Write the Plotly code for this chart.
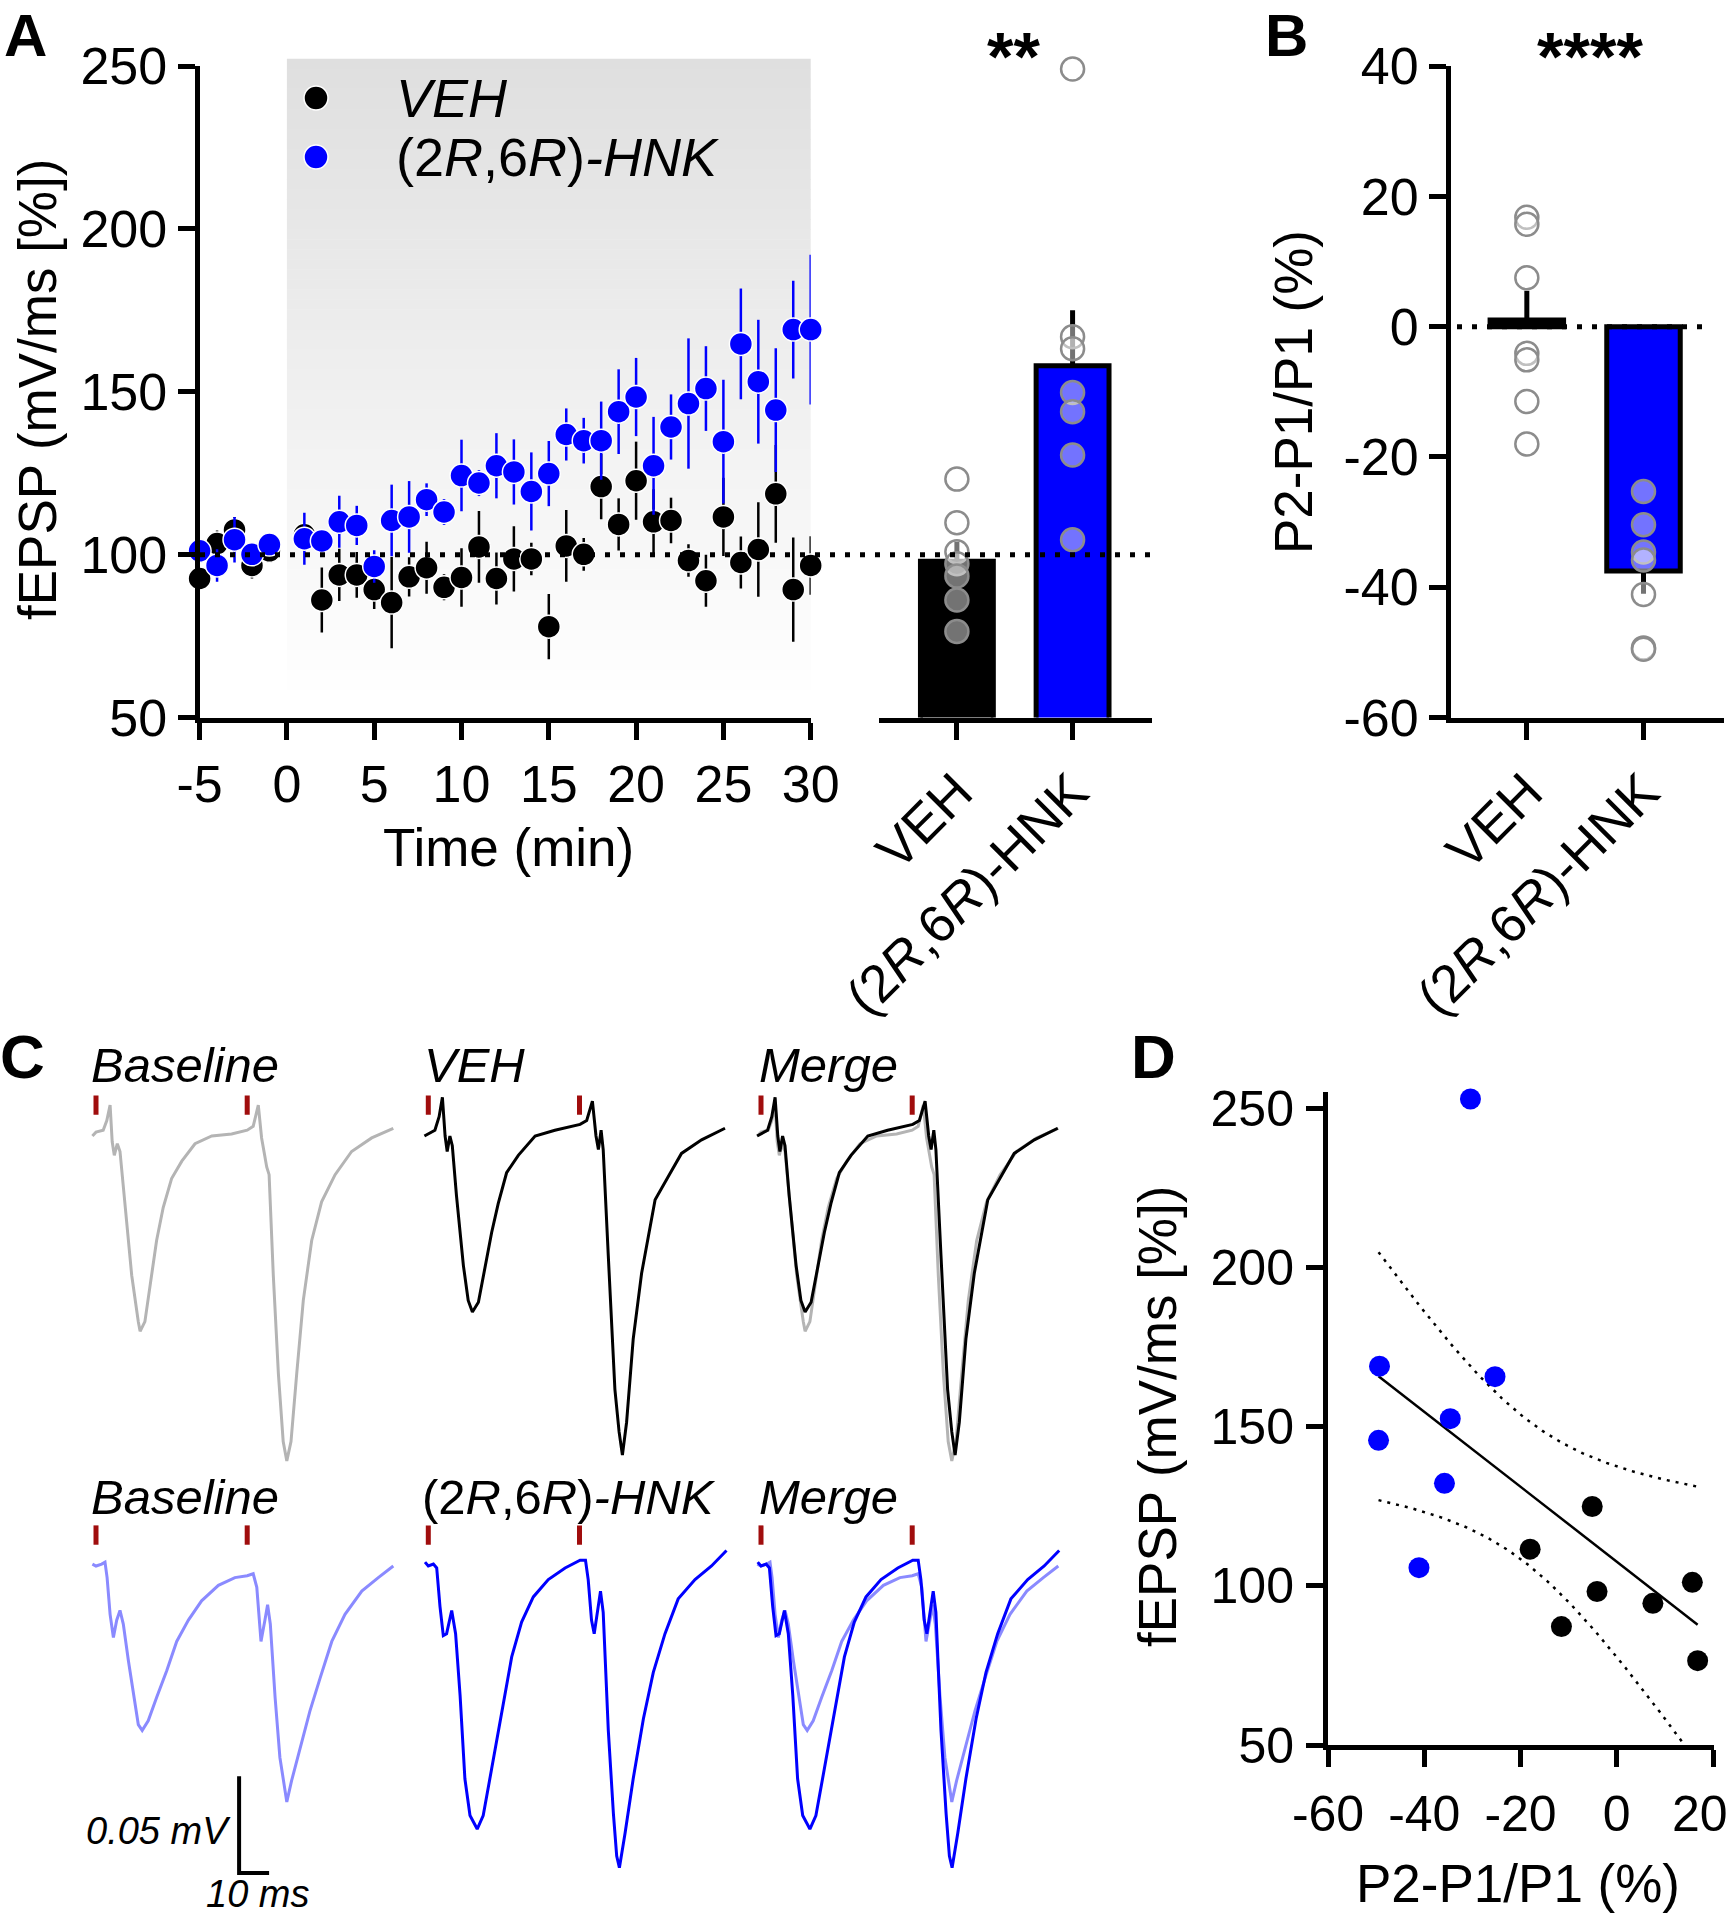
import numpy as np
import plotly.graph_objects as go

W, H = 1734, 1920
FONT = "Liberation Sans, Arial, sans-serif"
BLUE = "#0000ff"
LIGHT_BLUE = "#8a8aff"
GRAY = "#b4b4b4"

# ---------------- Panel A : time course (mean +/- SEM, % of baseline) ----------------
time_min = [-5, -4, -3, -2, -1, 1, 2, 3, 4, 5, 6, 7, 8, 9, 10, 11, 12, 13, 14, 15,
            16, 17, 18, 19, 20, 21, 22, 23, 24, 25, 26, 27, 28, 29, 30]
veh_time_mean = [92.7, 103.4, 107.6, 96.7, 101.2, 106.1, 86.1, 93.8, 93.8, 89.3, 85.3, 93.2,
                 96.0, 90.0, 93.0, 102.4, 92.7, 98.7, 98.7, 77.9, 102.7, 100.1, 120.9, 109.3,
                 122.7, 110.1, 110.5, 98.2, 92.0, 111.6, 97.6, 101.6, 118.7, 89.3, 96.7]
veh_time_sem = [3, 4, 4, 4, 3, 3, 10, 8, 7, 6, 14, 6, 8, 4, 9, 11, 8, 10, 5, 10,
                11, 5, 10, 8, 12, 10, 7, 5, 8, 12, 8, 14.5, 15, 16, 9]
hnk_time_mean = [101.2, 96.7, 104.6, 100.1, 103.1, 104.9, 104.2, 110.1, 109.0, 96.4, 110.5,
                 111.6, 116.9, 113.1, 124.3, 122.0, 127.3, 125.4, 119.4, 124.9, 136.9, 135.0,
                 135.0, 143.9, 148.4, 127.3, 139.2, 146.4, 151.0, 134.7, 164.7, 153.1, 144.4,
                 169.1, 169.1]
hnk_time_sem = [3, 5, 7, 3, 3, 8, 3, 8, 6, 5, 11, 11, 5, 4, 11, 4, 10, 10, 12, 10,
                8, 7, 12, 13, 12, 15, 10, 20, 13, 19, 17, 19, 19, 15, 23]
time_ticks = [-5, 0, 5, 10, 15, 20, 25, 30]
ltp_ticks = [50, 100, 150, 200, 250]

# ---------------- Panel A bars : last 10 min fEPSP (%) ----------------
groups = ["VEH", "(2<i>R</i>,6<i>R</i>)-HNK"]
ltp_bar_mean = [98, 158]
ltp_bar_sem = [6, 17]
ltp_veh_cells = [123.2, 109.8, 100.9, 97.2, 93.5, 86.1, 76.4]
ltp_hnk_cells = [249.1, 166.9, 163.2, 149.8, 143.9, 130.6, 104.6]

# ---------------- Panel B : paired-pulse ratio (%) ----------------
ppr_bar_mean = [1.0, -37.5]
ppr_bar_sem = [4.5, 3.5]
ppr_veh_cells = [16.8, 15.7, 7.5, -4.1, -5.1, -11.5, -18.0]
ppr_hnk_cells = [-30.4, -49.3, -25.3, -34.6, -49.5, -35.8, -41.1]
ppr_ticks = [-60, -40, -20, 0, 20, 40]

# ---------------- Panel D : correlation (same cells as B, fEPSP read from D) ----------------
ltp_veh_d = [76.5, 101.1, 94.5, 98.2, 124.9, 87.2, 111.5]
ltp_hnk_d = [252.9, 169.0, 165.7, 152.5, 145.7, 132.2, 105.7]
ppr_d_ticks = [-60, -40, -20, 0, 20]
T_CRIT_DF12 = 2.179  # two-sided 95% t value, n - 2 = 12

# ---------------- Panel C : representative traces (time ms, voltage mV) ----------------
stim_times = [0, 50.4]
base_veh_t = [-1.2, 0, 2.4, 3.6, 4.7, 5.4, 6.1, 7.1, 8.0, 9.7, 11.9, 14.1, 14.7, 16.3, 18.6,
              20.2, 22.4, 25.2, 28.6, 33.0, 38.6, 45.2, 50.4, 52.4, 54.1, 55.2, 56.0, 56.9,
              57.7, 59.1, 60.8, 62.4, 63.6, 65.0, 66.9, 69.1, 71.9, 75.2, 79.7, 85.2, 91.9, 99.1]
base_veh_v = [0, 0.002, 0.003, 0.008, 0.016, -0.003, -0.010, -0.004, -0.008, -0.037, -0.072,
              -0.096, -0.101, -0.096, -0.072, -0.054, -0.037, -0.022, -0.013, -0.004, 0, 0.001,
              0.003, 0.005, 0.016, -0.001, -0.008, -0.016, -0.020, -0.072, -0.123, -0.158,
              -0.168, -0.158, -0.123, -0.085, -0.054, -0.034, -0.020, -0.008, -0.001, 0.004]
veh_t = [-1.3, 0, 2.2, 3.6, 4.7, 5.6, 6.3, 7.2, 8.0, 9.4, 11.7, 13.3, 14.7, 16.7, 18.9, 21.1,
         23.3, 26.1, 30.0, 35.6, 42.2, 50.6, 52.8, 54.7, 55.9, 56.7, 57.6, 58.3, 60.0, 62.2,
         63.6, 64.7, 66.1, 68.3, 71.1, 75.6, 80.0, 84.4, 91.1, 98.9]
veh_v = [0, 0.001, 0.003, 0.010, 0.020, 0, -0.008, 0, -0.005, -0.031, -0.067, -0.085, -0.091,
         -0.086, -0.067, -0.050, -0.035, -0.019, -0.010, 0, 0.003, 0.006, 0.008, 0.018, 0,
         -0.007, 0.003, -0.007, -0.062, -0.131, -0.153, -0.165, -0.148, -0.105, -0.071, -0.033,
         -0.021, -0.009, -0.002, 0.004]
base_hnk_t = [-1.2, 0, 1.9, 3.0, 3.7, 4.7, 5.8, 6.9, 8.0, 9.1, 10.8, 12.4, 14.1, 15.4, 17.4,
              20.2, 23.6, 26.9, 30.8, 35.2, 40.8, 46.3, 50.4, 52.4, 53.6, 54.3, 55.0, 56.3,
              57.2, 58.1, 59.7, 61.3, 62.8, 63.6, 65.2, 68.0, 71.3, 74.7, 78.6, 83.0, 88.6,
              94.1, 99.1]
base_hnk_v = [0.001, 0, 0.001, 0.002, -0.006, -0.025, -0.037, -0.028, -0.023, -0.030, -0.049,
              -0.066, -0.082, -0.085, -0.080, -0.068, -0.054, -0.039, -0.028, -0.018, -0.010,
              -0.006, -0.005, -0.004, -0.011, -0.025, -0.039, -0.028, -0.020, -0.030, -0.068,
              -0.099, -0.115, -0.122, -0.111, -0.094, -0.075, -0.058, -0.039, -0.025, -0.013,
              -0.006, 0]
hnk_t = [-1.1, 0, 1.7, 2.8, 3.9, 5.0, 6.1, 7.8, 9.1, 10.6, 12.2, 13.9, 16.3, 18.3, 21.1, 24.4,
         27.8, 31.1, 35.0, 40.0, 45.6, 50.6, 52.4, 53.3, 54.4, 55.3, 56.4, 57.4, 58.3, 60.0,
         61.7, 62.8, 63.7, 65.6, 68.3, 71.7, 75.0, 78.9, 83.3, 88.9, 94.4, 99.4]
hnk_v = [0.002, 0, 0.001, -0.001, -0.021, -0.036, -0.035, -0.023, -0.035, -0.067, -0.110,
         -0.129, -0.136, -0.129, -0.105, -0.076, -0.047, -0.029, -0.016, -0.007, -0.001, 0.003,
         0.003, -0.007, -0.028, -0.035, -0.022, -0.013, -0.024, -0.085, -0.128, -0.150, -0.156,
         -0.138, -0.110, -0.079, -0.055, -0.035, -0.017, -0.007, 0, 0.008]
SCALE_MS, SCALE_MV = 10, 0.05


def fx(p):
    return p / W


def fy(p):
    return 1 - p / H


def dom_x(a, b):
    return [fx(a), fx(b)]


def dom_y(top, bottom):
    return [fy(bottom), fy(top)]


def hy(vals):
    # tick text with a plain hyphen as the minus sign, as in the original figure
    return [str(v) for v in vals]


def axis_style(**kw):
    d = dict(showline=True, linecolor="black", linewidth=5, ticks="outside", ticklen=17,
             tickwidth=5, tickcolor="black", showgrid=False, zeroline=False, automargin=False,
             tickfont=dict(family=FONT, size=52, color="black"), fixedrange=True)
    d.update(kw)
    return d


fig = go.Figure()

# ---- Panel A time course
fig.add_trace(go.Scatter(
    x=time_min, y=veh_time_mean, mode="markers", xaxis="x", yaxis="y", cliponaxis=False,
    error_y=dict(type="data", array=veh_time_sem, color="black", thickness=2.5, width=0),
    marker=dict(color="black", size=23, line=dict(color="white", width=1.5)), showlegend=False))
fig.add_trace(go.Scatter(
    x=time_min, y=hnk_time_mean, mode="markers", xaxis="x", yaxis="y", cliponaxis=False,
    error_y=dict(type="data", array=hnk_time_sem, color=BLUE, thickness=2.5, width=0),
    marker=dict(color=BLUE, size=23, line=dict(color="white", width=1.5)), showlegend=False))

# ---- Panel A bars
cat_x = list(range(len(groups)))
fig.add_trace(go.Bar(
    x=cat_x, y=ltp_bar_mean, width=0.63, xaxis="x2", yaxis="y2", showlegend=False,
    marker=dict(color=["black", BLUE], line=dict(color="black", width=5)),
    error_y=dict(type="data", symmetric=False, array=ltp_bar_sem, arrayminus=[0, 0],
                 color="black", thickness=5, width=0)))
dot_style = dict(color="rgba(255,255,255,0.45)", size=23, line=dict(color="#8c8c8c", width=2.5))
fig.add_trace(go.Scatter(
    x=[cat_x[0]] * len(ltp_veh_cells) + [cat_x[1]] * len(ltp_hnk_cells),
    y=ltp_veh_cells + ltp_hnk_cells, mode="markers", xaxis="x2", yaxis="y2",
    cliponaxis=False, marker=dot_style, showlegend=False))

# ---- Panel B bars
fig.add_trace(go.Bar(
    x=cat_x, y=ppr_bar_mean, width=0.63, xaxis="x3", yaxis="y3", showlegend=False,
    marker=dict(color=["black", BLUE], line=dict(color="black", width=5)),
    error_y=dict(type="data", symmetric=False, array=[ppr_bar_sem[0], 0],
                 arrayminus=[0, ppr_bar_sem[1]], color="black", thickness=5, width=0)))
fig.add_trace(go.Scatter(
    x=[cat_x[0]] * len(ppr_veh_cells) + [cat_x[1]] * len(ppr_hnk_cells),
    y=ppr_veh_cells + ppr_hnk_cells, mode="markers", xaxis="x3", yaxis="y3",
    cliponaxis=False, marker=dot_style, showlegend=False))

# ---- Panel D scatter + regression with 95% confidence band
xs = np.array(ppr_veh_cells + ppr_hnk_cells, dtype=float)
ys = np.array(ltp_veh_d + ltp_hnk_d, dtype=float)
slope, intercept = np.polyfit(xs, ys, 1)
n = len(xs)
resid = ys - (slope * xs + intercept)
s = np.sqrt(np.sum(resid ** 2) / (n - 2))
sxx = np.sum((xs - xs.mean()) ** 2)
xg = np.linspace(xs.min(), xs.max(), 120)
yg = slope * xg + intercept
half = T_CRIT_DF12 * s * np.sqrt(1 / n + (xg - xs.mean()) ** 2 / sxx)
fig.add_trace(go.Scatter(x=xg, y=yg + half, mode="lines", xaxis="x4", yaxis="y4",
                         line=dict(color="black", width=2.5, dash="3px,6px"), showlegend=False))
fig.add_trace(go.Scatter(x=xg, y=yg - half, mode="lines", xaxis="x4", yaxis="y4",
                         line=dict(color="black", width=2.5, dash="3px,6px"), showlegend=False))
fig.add_trace(go.Scatter(x=xg, y=yg, mode="lines", xaxis="x4", yaxis="y4",
                         line=dict(color="black", width=2.5), showlegend=False))
fig.add_trace(go.Scatter(x=ppr_veh_cells, y=ltp_veh_d, mode="markers", xaxis="x4", yaxis="y4",
                         cliponaxis=False, marker=dict(color="black", size=21), showlegend=False))
fig.add_trace(go.Scatter(x=ppr_hnk_cells, y=ltp_hnk_d, mode="markers", xaxis="x4", yaxis="y4",
                         cliponaxis=False, marker=dict(color=BLUE, size=21), showlegend=False))

# ---- Panel C traces
PX_PER_MS = 3.0
PX_PER_MV = 1934.0
col_t0 = [96, 428.3, 761]
row_base = [1136, 1566]
row_vrange = [(-0.175, 0.03), (-0.165, 0.025)]
T_RANGE = (-2, 102)
panels = [
    (0, 0, [(base_veh_t, base_veh_v, GRAY)]),
    (1, 0, [(veh_t, veh_v, "black")]),
    (2, 0, [(base_veh_t, base_veh_v, GRAY), (veh_t, veh_v, "black")]),
    (0, 1, [(base_hnk_t, base_hnk_v, LIGHT_BLUE)]),
    (1, 1, [(hnk_t, hnk_v, BLUE)]),
    (2, 1, [(base_hnk_t, base_hnk_v, LIGHT_BLUE), (hnk_t, hnk_v, BLUE)]),
]
trace_axes = {}
for k, (c, r, lines) in enumerate(panels):
    idx = 5 + k
    xa, ya = f"x{idx}", f"y{idx}"
    t0 = col_t0[c]
    base = row_base[r]
    vlo, vhi = row_vrange[r]
    trace_axes[idx] = dict(
        x=dom_x(t0 + T_RANGE[0] * PX_PER_MS, t0 + T_RANGE[1] * PX_PER_MS),
        y=dom_y(base - vhi * PX_PER_MV, base - vlo * PX_PER_MV),
        yr=[vlo, vhi])
    for (tt, vv, colr) in lines:
        fig.add_trace(go.Scatter(x=tt, y=vv, mode="lines", xaxis=xa, yaxis=ya,
                                 line=dict(color=colr, width=3), showlegend=False))
    sx, sy = [], []
    for st in stim_times:
        sx += [st, st, None]
        sy += [0.011, 0.021, None]
    fig.add_trace(go.Scatter(x=sx, y=sy, mode="lines", xaxis=xa, yaxis=ya,
                             line=dict(color="#a00d0d", width=5), showlegend=False))
    if c == 0 and r == 1:
        bar_t = 47.7
        bar_v = -0.1587
        fig.add_trace(go.Scatter(
            x=[bar_t, bar_t, bar_t + SCALE_MS], y=[bar_v + SCALE_MV, bar_v, bar_v],
            mode="lines", xaxis=xa, yaxis=ya, line=dict(color="black", width=4),
            showlegend=False))

# ---------------- layout ----------------
A_Y = dom_y(66, 717.6)
# the last D x label would overflow the page edge; it is drawn as a nudged annotation instead
d_xtext = hy(ppr_d_ticks)
d_last_label = d_xtext[-1]
d_xtext[-1] = ""
layout = dict(
    width=W, height=H, margin=dict(l=0, r=0, t=0, b=0, pad=0, autoexpand=False),
    autosize=False,
    paper_bgcolor="white", plot_bgcolor="rgba(0,0,0,0)",
    font=dict(family=FONT, color="black"), showlegend=False,
    xaxis=axis_style(domain=dom_x(199.6, 810.7), range=[-5, 30], anchor="y",
                     tickvals=time_ticks, ticktext=hy(time_ticks), ticklabelstandoff=0),
    yaxis=axis_style(domain=A_Y, range=[50, 250], anchor="x",
                     tickvals=ltp_ticks, ticktext=hy(ltp_ticks), ticklabelstandoff=0),
    xaxis2=axis_style(domain=dom_x(878.8, 1152.4), range=[-0.675, 1.69], anchor="y2",
                      tickvals=cat_x, ticktext=groups, tickangle=-45, ticklabelstandoff=0,
                      tickfont=dict(family=FONT, size=53, color="black")),
    yaxis2=dict(domain=A_Y, range=[50, 250], anchor="x2", visible=False, fixedrange=True,
                automargin=False),
    xaxis3=axis_style(domain=dom_x(1451, 1724), range=[-0.65, 1.69], anchor="y3",
                      tickvals=cat_x, ticktext=groups, tickangle=-45, ticklabelstandoff=0,
                      tickfont=dict(family=FONT, size=53, color="black")),
    yaxis3=axis_style(domain=A_Y, range=[-60, 40], anchor="x3",
                      tickvals=ppr_ticks, ticktext=hy(ppr_ticks), ticklabelstandoff=0),
    xaxis4=axis_style(domain=dom_x(1328, 1714), range=[-60, 20.2], anchor="y4",
                      tickvals=ppr_d_ticks, ticktext=d_xtext, ticklabelstandoff=4,
                      tickfont=dict(family=FONT, size=50, color="black")),
    yaxis4=axis_style(domain=dom_y(1091.7, 1745), range=[50, 255.2], anchor="x4",
                      tickvals=ltp_ticks, ticktext=hy(ltp_ticks), ticklabelstandoff=2,
                      tickfont=dict(family=FONT, size=50, color="black")),
)
for idx, d in trace_axes.items():
    layout[f"xaxis{idx}"] = dict(domain=d["x"], range=list(T_RANGE), visible=False,
                                 anchor=f"y{idx}", fixedrange=True, automargin=False)
    layout[f"yaxis{idx}"] = dict(domain=d["y"], range=d["yr"], visible=False,
                                 anchor=f"x{idx}", fixedrange=True, automargin=False)
fig.update_layout(**layout)

# ---------------- shapes ----------------
shapes = []
# gray gradient background for the drug application period (x 0 -> 30.2 min)
top_px, bot_px, nstripe = 58.8, 700.0, 64
for i in range(nstripe):
    p0 = top_px + (bot_px - top_px) * i / nstripe
    p1 = top_px + (bot_px - top_px) * (i + 1) / nstripe + 0.6
    g = int(round(223 + (255 - 223) * (i / (nstripe - 1))))
    shapes.append(dict(type="rect", xref="x", yref="paper", x0=0, x1=30.2,
                       y0=fy(p1), y1=fy(p0), fillcolor=f"rgb({g},{g},{g})",
                       line=dict(width=0), layer="below"))
# dotted reference lines
shapes.append(dict(type="line", xref="paper", yref="y", x0=fx(200), x1=fx(1157), y0=100, y1=100,
                   line=dict(color="black", width=5, dash="5px,10px"), layer="above"))
shapes.append(dict(type="line", xref="paper", yref="y3", x0=fx(1457), x1=fx(1708), y0=0, y1=0,
                   line=dict(color="black", width=5, dash="5px,10px"), layer="above"))
# legend symbols
for (py, colr) in [(98, "black"), (157, BLUE)]:
    shapes.append(dict(type="circle", xref="paper", yref="paper", xsizemode="pixel",
                       ysizemode="pixel", xanchor=fx(316), yanchor=fy(py),
                       x0=-12, x1=12, y0=-12, y1=12, fillcolor=colr,
                       line=dict(color="white", width=1.5)))
fig.update_layout(shapes=shapes)

# ---------------- annotations ----------------
anns = []


def ann(text, x, y, size, xanchor="center", yanchor="middle", angle=0, **extra):
    a = dict(text=text, x=fx(x), y=fy(y), xref="paper", yref="paper",
             xanchor=xanchor, yanchor=yanchor, textangle=angle, showarrow=False,
             font=dict(family=FONT, size=size, color="black"))
    a.update(extra)
    anns.append(a)


# panel letters
ann("<b>A</b>", 25, 0, 60, yanchor="top")
ann("<b>B</b>", 1286, 0, 60, yanchor="top")
ann("<b>C</b>", 22, 1056, 62)
ann("<b>D</b>", 1153, 1056, 62)
# axis titles
ann("fEPSP (mV/ms [%])", 37, 390, 53, angle=-90)
ann("Time (min)", 508, 847, 53)
ann("P2-P1/P1 (%)", 1294, 392, 53, angle=-90)
ann("fEPSP (mV/ms [%])", 1157, 1417, 53, angle=-90)
ann("P2-P1/P1 (%)", 1518, 1883, 53)
# last tick label of D x axis, nudged inside the page as in the original
ann(d_last_label, 1700, 1814, 50)
# significance
ann("<b>**</b>", 1014, 56, 68)
ann("<b>****</b>", 1590, 56, 68)
# legend text
ann("<i>VEH</i>", 394, 98, 54, xanchor="left")
ann("(2<i>R</i>,6<i>R</i>)<i>-HNK</i>", 394, 157, 54, xanchor="left")
# trace titles
ann("<i>Baseline</i>", 89, 1065, 49, xanchor="left")
ann("<i>VEH</i>", 422, 1065, 49, xanchor="left")
ann("<i>Merge</i>", 757, 1065, 49, xanchor="left")
ann("<i>Baseline</i>", 89, 1497, 49, xanchor="left")
ann("(2<i>R</i>,6<i>R</i>)<i>-HNK</i>", 420, 1497, 49, xanchor="left")
ann("<i>Merge</i>", 757, 1497, 49, xanchor="left")
# scale bar labels
ann(f"<i>{SCALE_MV} mV</i>", 233, 1831, 38, xanchor="right")
ann(f"<i>{SCALE_MS} ms</i>", 257, 1894, 38)
fig.update_layout(annotations=anns)

# the default page adds an 8px body margin; remove it so the figure sits at the page origin
fig.write_html("out.html", config={"displayModeBar": False},
               post_script="document.body.style.margin='0px';")
